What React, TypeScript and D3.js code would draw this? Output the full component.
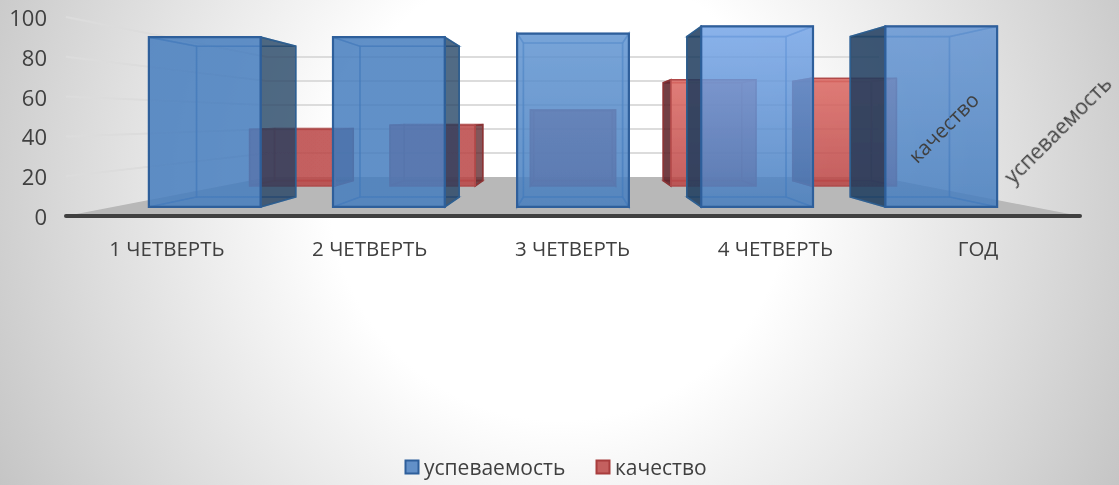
import React from "react";
import * as d3 from "d3";

const categories = ["1 ЧЕТВЕРТЬ", "2 ЧЕТВЕРТЬ", "3 ЧЕТВЕРТЬ", "4 ЧЕТВЕРТЬ", "ГОД"];
const uspevaemost = [94, 94, 96, 100, 100];
const kachestvo = [41, 44, 55, 77, 78];
const yTicks = [0, 20, 40, 60, 80, 100];
const seriesNames = ["успеваемость", "качество"];

const W = 1119, H = 485;
const vp = { x: 573, y: 118 };
const depth = d3.scaleLinear().domain([0, 1]).range([1, 0.603]);
const xBand = d3.scaleBand<string>().domain(categories).range([66, 1080]).paddingInner(0.393).paddingOuter(0.1965);
const yVal = d3.scaleLinear().domain([0, 100]).range([216, 17]);
const proj = (x: number, v: number, z: number): [number, number] => {
  const s = depth(z);
  return [vp.x + (x - vp.x) * s, vp.y + (yVal(v) - vp.y) * s];
};
const poly = (pts: [number, number][]) => d3.line()(pts)! + "Z";

const blueTop = ["#467dbe", "#467dbe", "#6094d1", "#76a5e7", "#6495d3"];
const redTop = ["#ba4444", "#ba4444", "#ba4444", "#db6660", "#db6660"];

function Bar({ i, v, z0, z1, fillId, dark, stroke, inner, edge, frontWidth }: any) {
  const c = categories[i];
  const x0 = xBand(c)!, x1 = x0 + xBand.bandwidth();
  const f = (x: number, val: number, z: number) => proj(x, val, z);
  const front = poly([f(x0, v, z0), f(x1, v, z0), f(x1, 0, z0), f(x0, 0, z0)]);
  const back = poly([f(x0, v, z1), f(x1, v, z1), f(x1, 0, z1), f(x0, 0, z1)]);
  const left = poly([f(x0, v, z0), f(x0, v, z1), f(x0, 0, z1), f(x0, 0, z0)]);
  const right = poly([f(x1, v, z0), f(x1, v, z1), f(x1, 0, z1), f(x1, 0, z0)]);
  const top = poly([f(x0, v, z0), f(x1, v, z0), f(x1, v, z1), f(x0, v, z1)]);
  const bottom = poly([f(x0, 0, z0), f(x1, 0, z0), f(x1, 0, z1), f(x0, 0, z1)]);
  const rightOuter = f(x1, 0, z1)[0] > f(x1, 0, z0)[0];
  const leftOuter = f(x0, 0, z1)[0] < f(x0, 0, z0)[0];
  const innerStyle = { fill: "none", stroke: inner, strokeWidth: 1.6, strokeOpacity: 0.5 };
  return (
    <g>
      <path d={back} {...innerStyle} />
      <path d={top} {...innerStyle} />
      <path d={bottom} {...innerStyle} />
      {!rightOuter && <path d={right} {...innerStyle} />}
      {!leftOuter && <path d={left} {...innerStyle} />}
      {rightOuter && <path d={right} fill={dark} fillOpacity={0.76} stroke={edge} strokeWidth={1.6} />}
      {leftOuter && <path d={left} fill={dark} fillOpacity={0.86} stroke={edge} strokeWidth={1.6} />}
      <path d={front} fill={`url(#${fillId}${i})`} fillOpacity={0.85} stroke={stroke} strokeWidth={frontWidth} />
    </g>
  );
}

export default function App() {
  const xL = 66, xR = 1080;
  return (
    <svg width={W} height={H} viewBox={`0 0 ${W} ${H}`}
      style={{ position: "absolute", left: 0, top: 0, fontFamily: "'Open Sans', sans-serif" }}>
      <defs>
        <radialGradient id="bg" gradientUnits="userSpaceOnUse" cx={560} cy={190} r={640}>
          <stop offset="0.36" stopColor="#ffffff" />
          <stop offset="1" stopColor="#c4c4c4" />
        </radialGradient>
        {blueTop.map((c, i) => (
          <linearGradient key={i} id={`blue${i}`} x1="0" y1="0" x2="0" y2="1">
            <stop offset="0" stopColor={c} />
            <stop offset="1" stopColor="#467dbe" />
          </linearGradient>
        ))}
        {redTop.map((c, i) => (
          <linearGradient key={i} id={`red${i}`} x1="0" y1="0" x2="0" y2="1">
            <stop offset="0" stopColor={c} />
            <stop offset="1" stopColor="#ba4444" />
          </linearGradient>
        ))}
        <filter id="soft" x="-2%" y="-2%" width="104%" height="104%">
          <feGaussianBlur stdDeviation="0.45" />
        </filter>
        <filter id="softText" x="-5%" y="-5%" width="110%" height="110%">
          <feGaussianBlur stdDeviation="0.3" />
        </filter>
      </defs>
      <rect width={W} height={H} fill="url(#bg)" />
      <g filter="url(#soft)">
        {yTicks.filter((t) => t > 0).map((t) => {
          const a = proj(xL, t, 0), b = proj(xL, t, 1), c = proj(xR, t, 1);
          return (
            <g key={t} fill="none" stroke="#dcdcdc" strokeWidth={2}>
              <path d={d3.line()([a, b, c])!} />
            </g>
          );
        })}
        <path d={poly([proj(xL, 0, 0), proj(xL, 0, 1), proj(xR, 0, 1), proj(xR, 0, 0)])} fill="#b8b8b8" />
        {kachestvo.map((v, i) => (
          <Bar key={i} i={i} v={v} z0={0.775} z1={0.91} fillId="red" dark="#5c2025" stroke="#b04a4a" inner="#a83c3c" edge="#8a3436" frontWidth={1.4} />
        ))}
        {uspevaemost.map((v, i) => (
          <Bar key={i} i={i} v={v} z0={0.232} z1={0.489} fillId="blue" dark="#1d3c5e" stroke="#2f5f9b" inner="#2f68aa" edge="#2f5f8f" frontWidth={2.2} />
        ))}
        <line x1={xL} x2={xR} y1={216} y2={216} stroke="#404040" strokeWidth={4} strokeLinecap="round" />
      </g>
      <g fill="#404040" filter="url(#softText)">
        {yTicks.map((t) => (
          <text key={t} x={47} y={yVal(t) + 9} textAnchor="end" fontSize={22}>{t}</text>
        ))}
        {categories.map((c) => (
          <text key={c} x={xBand(c)! + xBand.bandwidth() / 2 - 0.5} y={256} textAnchor="middle" fontSize={20.5}>{c}</text>
        ))}
        <text transform="translate(945,129) rotate(-45)" textAnchor="middle" dominantBaseline="middle" fontSize={20.5}>{seriesNames[1]}</text>
        <text transform="translate(1059,131) rotate(-45)" textAnchor="middle" dominantBaseline="middle" fontSize={21}>{seriesNames[0]}</text>
        <rect x={405.5} y={460.5} width={13} height={13} fill="#6290c8" stroke="#2f5f9b" strokeWidth={2} />
        <text x={424} y={475} fontSize={21}>{seriesNames[0]}</text>
        <rect x={596.5} y={460.5} width={13} height={13} fill="#c4605e" stroke="#a83c3c" strokeWidth={2} />
        <text x={615} y={475} fontSize={21}>{seriesNames[1]}</text>
      </g>
    </svg>
  );
}
